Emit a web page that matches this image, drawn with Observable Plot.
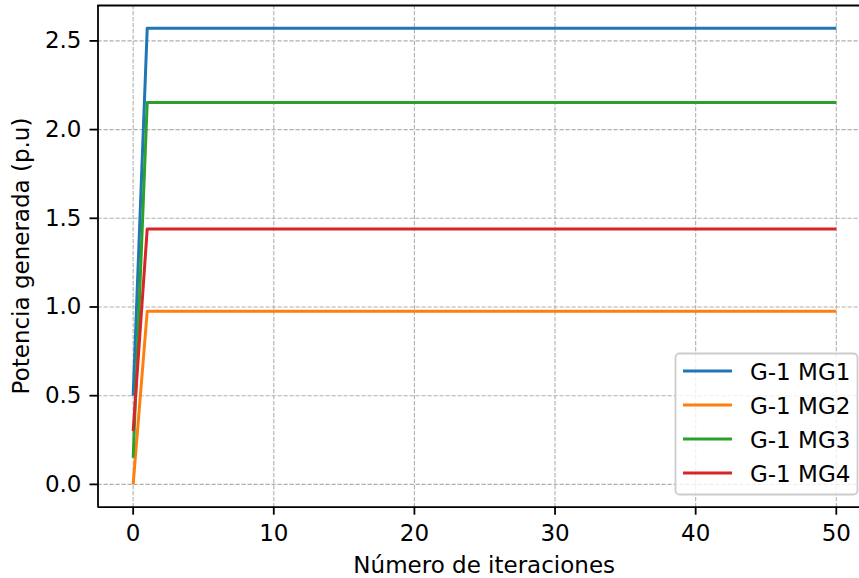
<!DOCTYPE html>
<html><head><meta charset="utf-8">
<script src="https://cdn.jsdelivr.net/npm/d3@7"></script>
<script src="https://cdn.jsdelivr.net/npm/@observablehq/plot@0.6"></script>
<style>html,body{margin:0;padding:0;background:#fff;overflow:hidden}</style>
</head><body><div id="chart"></div>
<script>
// Data
const iteraciones = [0, 1, 50];
const seriesNames = ["G-1 MG1", "G-1 MG2", "G-1 MG3", "G-1 MG4"];
const mg1 = [0.50, 2.571, 2.571];
const mg2 = [0.00, 0.976, 0.976];
const mg3 = [0.15, 2.153, 2.153];
const mg4 = [0.30, 1.440, 1.440];
const seriesValues = [mg1, mg2, mg3, mg4];
const xTicks = [0, 10, 20, 30, 40, 50];
const yTicks = [0.0, 0.5, 1.0, 1.5, 2.0, 2.5];
const colors = ["#1f77b4", "#ff7f0e", "#2ca02c", "#d62728"];
const xLabel = "Número de iteraciones";
const yLabel = "Potencia generada (p.u)";

const rows = [];
seriesNames.forEach((name, s) => {
  iteraciones.forEach((it, i) => rows.push({series: name, iter: it, value: seriesValues[s][i]}));
});

const W = 859, H = 578;
const mL = 97.5, mR = 0, mT = 5, mB = 71.3;
const xDomain = [-2.5, 51.65];
const yDomain = [-0.1286, 2.6996];
const grid = {stroke: "#b0b0b0", strokeWidth: 1.1, strokeDasharray: "4.2,1.8"};
const spine = {stroke: "#000", strokeWidth: 1.8};
const lineW = 3;

const chart = Plot.plot({
  width: W, height: H,
  marginLeft: mL, marginRight: mR, marginTop: mT, marginBottom: mB,
  style: {fontFamily: "DejaVu Sans", fontSize: "23px", color: "#000", background: "#fff"},
  x: {domain: xDomain},
  y: {domain: yDomain},
  color: {domain: seriesNames, range: colors},
  marks: [
    Plot.ruleX(xTicks, grid),
    Plot.ruleY(yTicks, grid),
    Plot.line(rows, {x: "iter", y: "value", z: "series", stroke: "series", strokeWidth: lineW, strokeLinejoin: "round", strokeLinecap: "butt"}),
    Plot.ruleX([xDomain[0]], spine),
    Plot.ruleY([yDomain[0]], spine),
    Plot.ruleY([yDomain[1]], spine),
    Plot.axisX({ticks: xTicks, tickSize: 8, tickPadding: 9, label: null, strokeWidth: 1.8, tickFormat: d => String(d)}),
    Plot.axisY({ticks: yTicks, tickSize: 8, tickPadding: 8.5, label: null, strokeWidth: 1.8, tickFormat: d => d.toFixed(1)})
  ]
});
document.getElementById("chart").appendChild(chart);

const svg = d3.select(chart);
const font = "DejaVu Sans";
svg.append("text")
  .attr("x", 484.2).attr("y", 573)
  .attr("text-anchor", "middle")
  .attr("font-family", font).attr("font-size", 23).attr("fill", "#000")
  .text(xLabel);
svg.append("text")
  .attr("transform", "translate(28.5,256) rotate(-90)")
  .attr("text-anchor", "middle")
  .attr("font-family", font).attr("font-size", 23).attr("fill", "#000")
  .text(yLabel);

const lg = svg.append("g");
lg.append("rect")
  .attr("x", 675.5).attr("y", 353.5).attr("width", 182).attr("height", 141)
  .attr("rx", 4).attr("fill", "#fff").attr("fill-opacity", 0.8)
  .attr("stroke", "#cccccc").attr("stroke-width", 1.8);
seriesNames.forEach((name, i) => {
  const cy = 371 + i * 34;
  lg.append("line").attr("x1", 683).attr("x2", 732).attr("y1", cy).attr("y2", cy)
    .attr("stroke", colors[i]).attr("stroke-width", lineW);
  lg.append("text").attr("x", 750).attr("y", cy + 9)
    .attr("text-anchor", "start")
    .attr("font-family", font).attr("font-size", 23).attr("fill", "#000")
    .text(name);
});
</script>
</body></html>
